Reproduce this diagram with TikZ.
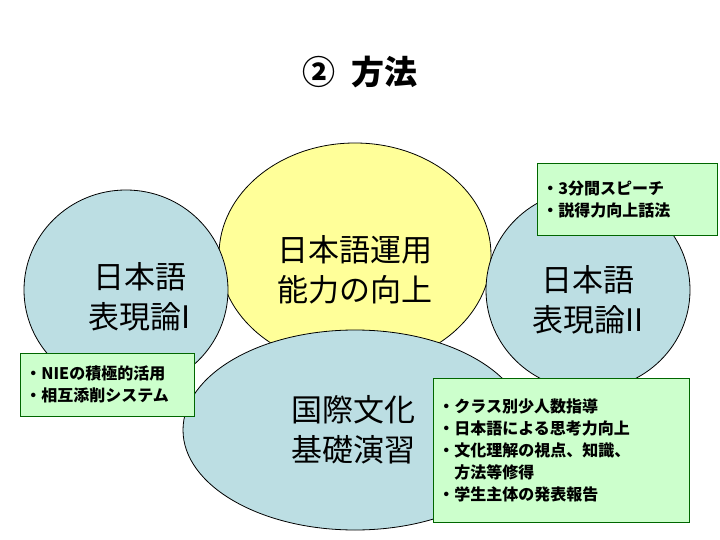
\documentclass[tikz,border=0pt]{standalone}
\usepackage{fontspec}
\setmainfont{Noto Sans CJK JP}
\begin{document}
\begin{tikzpicture}[x=1pt,y=-1pt,
  note/.style={draw=green!40!black,fill=notegreen,line width=0.8pt,align=left,font=\bfseries\fontsize{16}{22}\selectfont,inner xsep=5pt,anchor=north west},
  big/.style={font=\fontsize{31}{40}\selectfont,align=center}]
\definecolor{ellblue}{HTML}{BCDEE3}
\definecolor{notegreen}{HTML}{CCFFCC}
\useasboundingbox (0,0) rectangle (720,540);
\fill[white] (0,0) rectangle (720,540);
\node[font=\bfseries\fontsize{33}{40}\selectfont] (title) at (360,72) {②\ \ 方法};
\draw[fill={rgb,255:red,255;green,255;blue,153},line width=0.8pt] (355,255) ellipse (136 and 112);
\draw[fill=ellblue,line width=0.8pt] (126,290) ellipse (102 and 100);
\draw[fill=ellblue,line width=0.8pt] (588,290) ellipse (102 and 100);
\draw[fill=ellblue,line width=0.8pt] (355,430) ellipse (172 and 100);
\node[big] (c) at (355,270) {日本語運用\\能力の向上};
\node[big] (l) at (140,297) {日本語\\表現論I};
\node[big] (r) at (588,300) {日本語\\表現論II};
\node[big] (b) at (353,430) {国際文化\\基礎演習};
\node[note,text width=170pt,minimum height=72pt,inner ysep=8pt] (n1) at (537,163) {・3分間スピーチ\\・説得力向上話法};
\node[note,text width=164pt,minimum height=63pt,inner ysep=6pt] (n2) at (20,353) {・NIEの積極的活用\\・相互添削システム};
\node[note,text width=246pt,minimum height=144pt,inner ysep=8pt] (n3) at (433,378) {・クラス別少人数指導\\・日本語による思考力向上\\・文化理解の視点、知識、\\\ \ \ 方法等修得\\・学生主体の発表報告};
\end{tikzpicture}
\end{document}
